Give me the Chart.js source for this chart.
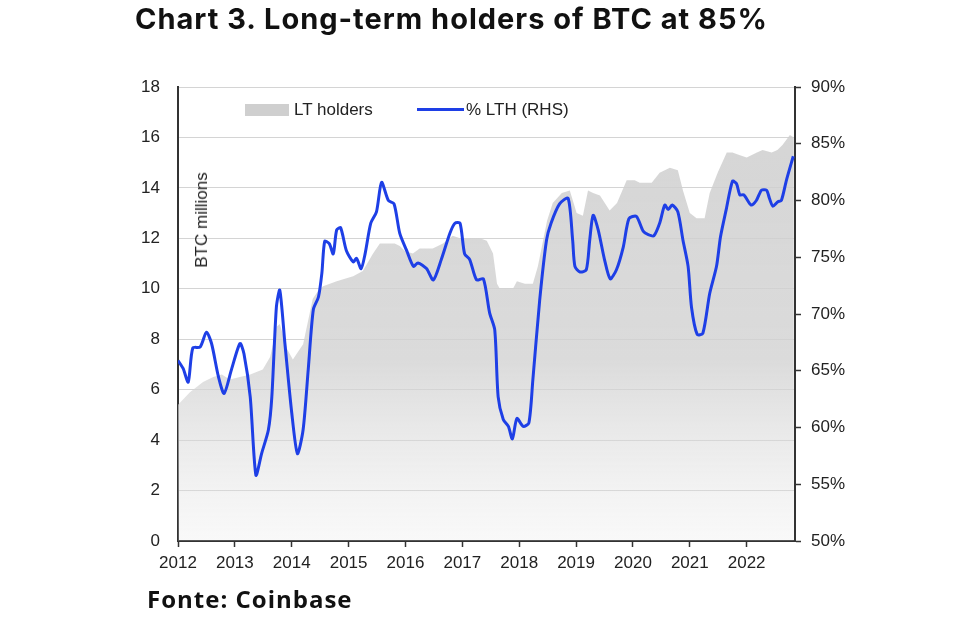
<!DOCTYPE html>
<html>
<head>
<meta charset="utf-8">
<title>Chart 3. Long-term holders of BTC at 85%</title>
<script src="https://cdn.jsdelivr.net/npm/chart.js"></script>
<style>
  body {
    margin: 0;
    width: 960px;
    height: 618px;
    overflow: hidden;
    position: relative;
    background: #fff;
    font-family: 'Liberation Sans', Arial, sans-serif;
    color: #222;
  }
  #box { position: absolute; left: 0; top: 0; width: 960px; height: 618px; }
  .title {
    position: absolute; left: 135px; top: 2px;
    font-family: Inter, sans-serif; font-weight: 700; font-size: 29px;
    letter-spacing: 1px; line-height: 34px; color: #111; white-space: nowrap;
  }
  .source {
    position: absolute; left: 147px; top: 584px;
    font-family: 'Open Sans', sans-serif; font-weight: 700; font-size: 24px;
    letter-spacing: 1px; line-height: 30px; color: #111; white-space: nowrap;
  }
  .ytitle {
    position: absolute; left: 202px; top: 220px;
    transform: translate(-50%, -50%) rotate(-90deg);
    font-size: 17px; white-space: nowrap;
  }
  .leg { position: absolute; top: 100px; font-size: 17px; line-height: 20px; white-space: nowrap; }
  .leg-area { position: absolute; left: 245px; top: 104px; width: 44px; height: 12px; background: #cfcfcf; }
  .leg-line { position: absolute; left: 417px; top: 108px; width: 47px; height: 3px; background: #1e3fe6; }
</style>
</head>
<body>
<div id="box"><canvas id="lth"></canvas></div>
<div class="title">Chart 3. Long-term holders of BTC at 85%</div>
<div class="ytitle">BTC millions</div>
<div class="leg-area"></div>
<div class="leg" style="left:294px">LT holders</div>
<div class="leg-line"></div>
<div class="leg" style="left:466px">% LTH (RHS)</div>
<div class="source">Fonte: Coinbase</div>

<script>
// LT holders, BTC millions (left axis)
const ltYears = [2012.0, 2012.21, 2012.44, 2012.62, 2012.77, 2012.91, 2013.09, 2013.27, 2013.49, 2013.62,
  2013.74, 2013.79, 2013.92, 2014.02, 2014.2, 2014.37, 2014.46, 2014.55, 2014.79, 2015.08,
  2015.25, 2015.43, 2015.55, 2015.81, 2015.9, 2015.99, 2016.13, 2016.25, 2016.48, 2016.66,
  2016.83, 2016.96, 2017.31, 2017.43, 2017.54, 2017.61, 2017.66, 2017.89, 2017.96, 2018.1,
  2018.24, 2018.33, 2018.49, 2018.59, 2018.75, 2018.89, 2019.01, 2019.12, 2019.21, 2019.3,
  2019.42, 2019.59, 2019.72, 2019.89, 2020.03, 2020.12, 2020.33, 2020.47, 2020.65, 2020.79,
  2020.88, 2021.0, 2021.12, 2021.26, 2021.35, 2021.49, 2021.65, 2021.75, 2021.87, 2022.0,
  2022.18, 2022.28, 2022.44, 2022.54, 2022.63, 2022.76, 2022.83];
const ltHolders = [5.4, 5.9, 6.3, 6.5, 6.6, 6.4, 6.5, 6.6, 6.8, 7.3,
  8.5, 8.6, 7.6, 7.2, 7.8, 9.6, 9.9, 10.1, 10.3, 10.5,
  10.7, 11.4, 11.8, 11.8, 11.7, 11.5, 11.4, 11.6, 11.6, 11.8,
  12.1, 12.0, 12.0, 11.9, 11.4, 10.2, 10.0, 10.0, 10.3, 10.2,
  10.2, 10.9, 12.7, 13.4, 13.8, 13.9, 13.0, 12.9, 13.9, 13.8,
  13.7, 13.1, 13.4, 14.3, 14.3, 14.2, 14.2, 14.6, 14.8, 14.7,
  13.9, 13.0, 12.8, 12.8, 13.8, 14.6, 15.4, 15.4, 15.3, 15.2,
  15.4, 15.5, 15.4, 15.5, 15.7, 16.1, 16.0];

// % LTH (right axis)
const lthYears = [2012.0, 2012.09, 2012.18, 2012.26, 2012.39, 2012.5, 2012.59, 2012.71, 2012.81, 2012.94,
  2013.09, 2013.16, 2013.27, 2013.37, 2013.47, 2013.59, 2013.65, 2013.73, 2013.79, 2013.88,
  2014.0, 2014.1, 2014.2, 2014.29, 2014.38, 2014.47, 2014.53, 2014.58, 2014.66, 2014.73,
  2014.79, 2014.86, 2014.96, 2015.08, 2015.14, 2015.22, 2015.29, 2015.39, 2015.49, 2015.58,
  2015.7, 2015.8, 2015.9, 2016.02, 2016.14, 2016.22, 2016.37, 2016.49, 2016.63, 2016.78,
  2016.87, 2016.96, 2017.04, 2017.13, 2017.25, 2017.37, 2017.48, 2017.57, 2017.63, 2017.72,
  2017.81, 2017.88, 2017.96, 2018.07, 2018.17, 2018.24, 2018.36, 2018.48, 2018.56, 2018.71,
  2018.86, 2018.94, 2018.98, 2019.07, 2019.18, 2019.24, 2019.3, 2019.39, 2019.5, 2019.6,
  2019.71, 2019.83, 2019.93, 2020.06, 2020.18, 2020.27, 2020.37, 2020.47, 2020.56, 2020.62,
  2020.69, 2020.79, 2020.88, 2020.97, 2021.03, 2021.13, 2021.23, 2021.35, 2021.47, 2021.54,
  2021.64, 2021.75, 2021.82, 2021.88, 2021.95, 2022.08, 2022.17, 2022.26, 2022.35, 2022.4,
  2022.46, 2022.55, 2022.61, 2022.7, 2022.82];
const lthPct = [65.9, 65.2, 64.0, 67.0, 67.1, 68.4, 67.4, 64.5, 63.0, 65.1,
  67.4, 66.5, 62.7, 55.8, 57.7, 59.8, 62.7, 70.6, 72.1, 67.4,
  61.3, 57.7, 59.8, 65.1, 70.4, 71.5, 73.6, 76.4, 76.2, 75.3,
  77.4, 77.6, 75.6, 74.6, 74.9, 74.0, 75.3, 78.0, 79.0, 81.6,
  80.0, 79.7, 77.1, 75.6, 74.2, 74.5, 74.0, 73.0, 74.8, 77.1,
  78.0, 78.0, 75.3, 74.8, 73.0, 73.1, 70.1, 68.6, 62.7, 60.7,
  60.1, 59.0, 60.8, 60.1, 60.4, 64.2, 71.2, 76.5, 78.0, 79.7,
  80.2, 76.5, 74.2, 73.7, 73.9, 76.5, 78.7, 77.4, 74.8, 73.1,
  73.9, 75.9, 78.4, 78.6, 77.3, 77.0, 76.9, 78.0, 79.6, 79.2,
  79.6, 79.0, 76.5, 74.2, 70.6, 68.2, 68.3, 71.8, 74.2, 76.8,
  79.2, 81.7, 81.5, 80.5, 80.5, 79.6, 80.0, 80.9, 80.9, 80.2,
  79.5, 79.9, 80.0, 81.8, 83.9];

const xTickYears = [2012, 2013, 2014, 2015, 2016, 2017, 2018, 2019, 2020, 2021, 2022];
const leftTicks = [0, 2, 4, 6, 8, 10, 12, 14, 16, 18];
const rightTicks = [50, 55, 60, 65, 70, 75, 80, 85, 90];

const axisColor = '#333';
const tickFont = { family: "'Liberation Sans', Arial, sans-serif", size: 17 };

function areaFill(ctx) {
    const area = ctx.chart.chartArea;
    if (!area) return 'rgba(200,200,200,0.8)';
    const g = ctx.chart.ctx.createLinearGradient(0, area.top, 0, area.bottom);
    g.addColorStop(0, 'rgba(205,205,205,0.85)');
    g.addColorStop(0.6, 'rgba(210,210,210,0.8)');
    g.addColorStop(1, 'rgba(225,225,225,0.2)');
    return g;
}

new Chart(document.getElementById('lth'), {
    type: 'line',
    data: {
        datasets: [
            {
                label: '% LTH (RHS)',
                data: lthYears.map((x, i) => ({ x: x, y: lthPct[i] })),
                yAxisID: 'y1',
                borderColor: '#1e3fe6',
                borderWidth: 3,
                pointRadius: 0,
                tension: 0.25,
                fill: false,
                order: 1
            },
            {
                label: 'LT holders',
                data: ltYears.map((x, i) => ({ x: x, y: ltHolders[i] })),
                yAxisID: 'y',
                borderWidth: 0,
                pointRadius: 0,
                backgroundColor: areaFill,
                fill: 'origin',
                order: 2
            }
        ]
    },
    options: {
        responsive: true,
        maintainAspectRatio: false,
        animation: false,
        events: [],
        layout: { padding: { top: 87, left: 0, right: 0, bottom: 0 } },
        plugins: { legend: { display: false }, tooltip: { enabled: false } },
        scales: {
            x: {
                type: 'linear',
                min: 2012,
                max: 2022.85,
                afterBuildTicks: s => { s.ticks = xTickYears.map(v => ({ value: v })); },
                afterFit: s => { s.height = 77; },
                ticks: { color: '#222', font: tickFont, padding: 6, maxRotation: 0, callback: v => String(v) },
                grid: { drawOnChartArea: false, color: axisColor, tickLength: 6, tickWidth: 1.5 },
                border: { color: axisColor, width: 2 }
            },
            y: {
                position: 'left',
                min: 0,
                max: 18,
                afterBuildTicks: s => { s.ticks = leftTicks.map(v => ({ value: v })); },
                afterFit: s => { s.width = 178; },
                ticks: { color: '#222', font: tickFont, padding: 18 },
                grid: { color: '#d4d4d4', lineWidth: 1, drawTicks: false },
                border: { color: axisColor, width: 2 }
            },
            y1: {
                position: 'right',
                min: 50,
                max: 90,
                afterBuildTicks: s => { s.ticks = rightTicks.map(v => ({ value: v })); },
                afterFit: s => { s.width = 165; },
                ticks: { color: '#222', font: tickFont, padding: 10, callback: v => v + '%' },
                grid: { drawOnChartArea: false, color: axisColor, tickLength: 6, tickWidth: 1.5 },
                border: { color: axisColor, width: 2 }
            }
        }
    }
});
</script>
</body>
</html>
